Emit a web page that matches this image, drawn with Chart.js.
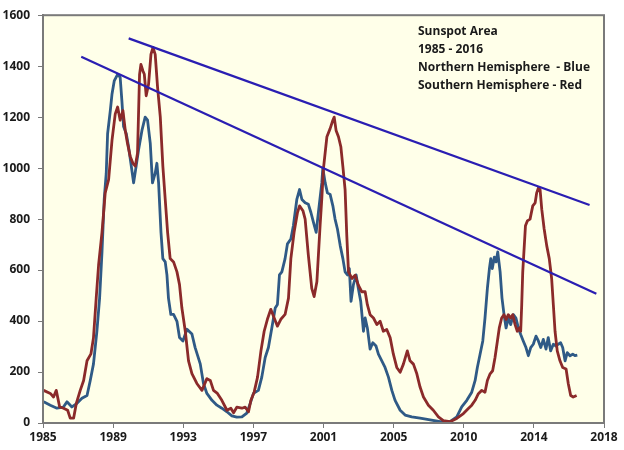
<!DOCTYPE html>
<html>
<head>
<meta charset="utf-8">
<script src="https://cdn.jsdelivr.net/npm/chart.js@4"></script>
<style>
  html, body { margin: 0; padding: 0; background: #ffffff; }
  #wrap { width: 624px; height: 450px; }
</style>
</head>
<body>
<div id="wrap"><canvas id="sunspot-chart"></canvas></div>
<script>
// x tick labels (Excel date axis, one label every ~4.1 years)
const xTickLabels = ["1985", "1989", "1993", "1997", "2001", "2005", "2010", "2014", "2018"];
const xStart = 1985;
const xEnd = 2018;

// Northern hemisphere (blue)
const northYears = [1985.04, 1985.43, 1985.82, 1986.19, 1986.41, 1986.70, 1987.00, 1987.29, 1987.59, 1987.78, 1987.97, 1988.17, 1988.33, 1988.47, 1988.60, 1988.72, 1988.80, 1988.96, 1989.06, 1989.19, 1989.39, 1989.54, 1989.64, 1989.74, 1989.90, 1990.03, 1990.17, 1990.33, 1990.48, 1990.62, 1990.82, 1991.01, 1991.15, 1991.31, 1991.44, 1991.60, 1991.70, 1991.80, 1991.94, 1992.05, 1992.19, 1992.29, 1992.38, 1992.52, 1992.68, 1992.88, 1993.03, 1993.23, 1993.47, 1993.76, 1993.95, 1994.25, 1994.44, 1994.64, 1994.94, 1995.23, 1995.52, 1995.82, 1996.11, 1996.40, 1996.70, 1996.99, 1997.19, 1997.38, 1997.67, 1997.87, 1998.07, 1998.26, 1998.46, 1998.66, 1998.79, 1998.91, 1999.05, 1999.24, 1999.38, 1999.58, 1999.73, 1999.93, 2000.09, 2000.23, 2000.42, 2000.61, 2000.76, 2000.91, 2001.07, 2001.20, 2001.40, 2001.46, 2001.60, 2001.73, 2001.89, 2002.05, 2002.18, 2002.32, 2002.48, 2002.64, 2002.77, 2002.91, 2003.02, 2003.12, 2003.26, 2003.42, 2003.55, 2003.69, 2003.85, 2003.95, 2004.08, 2004.24, 2004.40, 2004.59, 2004.73, 2004.93, 2005.12, 2005.32, 2005.52, 2005.71, 2006.01, 2006.30, 2006.69, 2007.18, 2007.77, 2008.36, 2008.94, 2009.34, 2009.63, 2009.93, 2010.22, 2010.42, 2010.55, 2010.71, 2010.87, 2011.00, 2011.14, 2011.26, 2011.34, 2011.43, 2011.55, 2011.65, 2011.75, 2011.89, 2012.00, 2012.12, 2012.24, 2012.37, 2012.51, 2012.67, 2012.82, 2012.96, 2013.10, 2013.25, 2013.41, 2013.55, 2013.69, 2013.84, 2014.00, 2014.14, 2014.28, 2014.43, 2014.59, 2014.72, 2014.86, 2015.02, 2015.18, 2015.31, 2015.45, 2015.57, 2015.71, 2015.84, 2016.00, 2016.16, 2016.29, 2016.43];
const northArea = [83, 70, 58, 62, 83, 63, 77, 97, 108, 167, 232, 360, 490, 670, 877, 980, 1135, 1226, 1291, 1342, 1368, 1356, 1265, 1163, 1135, 1085, 1019, 942, 1008, 1071, 1148, 1200, 1188, 1097, 942, 980, 1019, 942, 748, 645, 632, 581, 490, 426, 426, 399, 335, 322, 368, 349, 296, 232, 155, 116, 89, 70, 58, 44, 28, 23, 24, 39, 77, 116, 128, 180, 257, 296, 373, 451, 465, 581, 593, 645, 703, 722, 775, 877, 916, 877, 864, 858, 826, 787, 748, 826, 942, 1000, 942, 903, 897, 852, 800, 761, 697, 645, 593, 581, 606, 477, 543, 581, 528, 477, 360, 412, 373, 290, 315, 302, 270, 244, 218, 180, 128, 89, 50, 31, 24, 19, 12, 5, 5, 24, 63, 89, 121, 167, 218, 270, 322, 412, 528, 606, 645, 606, 651, 632, 671, 593, 490, 425, 373, 412, 386, 425, 412, 373, 347, 322, 296, 264, 296, 309, 341, 322, 296, 328, 290, 335, 283, 309, 302, 309, 315, 296, 244, 276, 264, 270, 264, 266];

// Southern hemisphere (red)
const southYears = [1985.04, 1985.43, 1985.62, 1985.78, 1985.98, 1986.21, 1986.45, 1986.60, 1986.80, 1986.96, 1987.19, 1987.39, 1987.59, 1987.82, 1987.97, 1988.13, 1988.27, 1988.47, 1988.66, 1988.86, 1989.06, 1989.25, 1989.39, 1989.54, 1989.70, 1989.84, 1989.97, 1990.13, 1990.29, 1990.43, 1990.56, 1990.68, 1990.76, 1990.88, 1990.96, 1991.07, 1991.21, 1991.35, 1991.47, 1991.60, 1991.74, 1991.90, 1992.05, 1992.19, 1992.33, 1992.48, 1992.68, 1992.88, 1993.03, 1993.17, 1993.37, 1993.56, 1993.76, 1994.05, 1994.35, 1994.64, 1994.84, 1995.03, 1995.26, 1995.52, 1995.82, 1996.05, 1996.21, 1996.40, 1996.70, 1996.89, 1997.09, 1997.23, 1997.42, 1997.62, 1997.82, 1998.01, 1998.20, 1998.40, 1998.60, 1998.79, 1998.99, 1999.24, 1999.44, 1999.58, 1999.77, 1999.97, 2000.09, 2000.29, 2000.42, 2000.61, 2000.81, 2000.95, 2001.11, 2001.30, 2001.40, 2001.50, 2001.70, 2001.89, 2002.05, 2002.13, 2002.24, 2002.38, 2002.52, 2002.64, 2002.77, 2002.87, 2002.97, 2003.17, 2003.36, 2003.55, 2003.75, 2003.95, 2004.08, 2004.24, 2004.44, 2004.64, 2004.83, 2005.02, 2005.22, 2005.42, 2005.61, 2005.81, 2006.01, 2006.20, 2006.43, 2006.59, 2006.79, 2006.99, 2007.18, 2007.38, 2007.67, 2007.96, 2008.26, 2008.55, 2008.94, 2009.34, 2009.73, 2010.02, 2010.22, 2010.42, 2010.61, 2010.81, 2011.00, 2011.14, 2011.30, 2011.45, 2011.59, 2011.73, 2011.84, 2011.98, 2012.12, 2012.24, 2012.37, 2012.51, 2012.63, 2012.77, 2012.90, 2013.02, 2013.10, 2013.16, 2013.22, 2013.30, 2013.38, 2013.49, 2013.65, 2013.81, 2013.95, 2014.04, 2014.14, 2014.24, 2014.34, 2014.48, 2014.63, 2014.78, 2014.92, 2015.02, 2015.12, 2015.25, 2015.41, 2015.57, 2015.77, 2015.90, 2016.04, 2016.19, 2016.39];
const southArea = [128, 116, 102, 128, 63, 58, 50, 19, 19, 77, 128, 167, 244, 271, 335, 490, 620, 748, 903, 955, 1110, 1213, 1240, 1188, 1226, 1148, 1097, 1046, 1019, 1008, 1058, 1368, 1407, 1381, 1368, 1284, 1329, 1446, 1474, 1446, 1317, 1200, 1008, 877, 748, 645, 632, 593, 543, 451, 360, 244, 194, 155, 128, 174, 167, 128, 116, 89, 50, 58, 40, 62, 58, 62, 44, 89, 121, 180, 283, 360, 407, 446, 412, 380, 407, 426, 490, 645, 748, 826, 852, 833, 800, 658, 528, 496, 554, 775, 880, 1000, 1123, 1155, 1188, 1200, 1148, 1123, 1084, 1006, 916, 735, 593, 567, 580, 541, 515, 515, 464, 425, 412, 386, 399, 360, 367, 335, 270, 218, 199, 231, 283, 244, 231, 193, 141, 102, 70, 50, 24, 9, 5, 18, 37, 57, 70, 89, 115, 128, 121, 167, 193, 205, 257, 322, 373, 412, 425, 406, 425, 412, 425, 386, 360, 373, 360, 464, 593, 683, 774, 793, 800, 852, 864, 903, 922, 916, 838, 761, 696, 645, 567, 464, 360, 283, 244, 218, 212, 154, 108, 102, 108];

// hand-drawn trend lines (start / end)
const upperTrendYears = [1990.04, 2017.15];
const upperTrendArea = [1509, 855];
const lowerTrendYears = [1987.25, 2017.55];
const lowerTrendArea = [1437, 507];

const noteLines = ["Sunspot Area", "1985 - 2016", "Northern Hemisphere  - Blue", "Southern Hemisphere - Red"];

const labelFont = { family: "'Open Sans', 'Liberation Sans', sans-serif", weight: "bold", size: 12 };

function toPoints(xs, ys) {
  return xs.map((x, i) => ({ x: x, y: ys[i] }));
}

const plotBackground = {
  id: "plotBackground",
  beforeDraw(chart) {
    const { ctx, chartArea } = chart;
    ctx.save();
    ctx.fillStyle = "#FFFFE9";
    ctx.fillRect(chartArea.left, chartArea.top, chartArea.right - chartArea.left, chartArea.bottom - chartArea.top);
    ctx.restore();
  },
  afterDraw(chart) {
    const { ctx, chartArea } = chart;
    ctx.save();
    ctx.strokeStyle = "#7a7a7a";
    ctx.lineWidth = 2;
    ctx.strokeRect(chartArea.left, chartArea.top, chartArea.right - chartArea.left, chartArea.bottom - chartArea.top);
    ctx.font = "bold 12px 'Open Sans', 'Liberation Sans', sans-serif";
    ctx.fillStyle = "#1a1a1a";
    ctx.textBaseline = "middle";
    noteLines.forEach((line, i) => {
      ctx.fillText(line, 418, 32 + i * 18);
    });
    ctx.restore();
  },
};

const ctx = document.getElementById("sunspot-chart").getContext("2d");

new Chart(ctx, {
  type: "line",
  data: {
    datasets: [
      {
        label: "Upper trend",
        data: toPoints(upperTrendYears, upperTrendArea),
        borderColor: "#2A1EB2",
        borderWidth: 2.2,
      },
      {
        label: "Lower trend",
        data: toPoints(lowerTrendYears, lowerTrendArea),
        borderColor: "#2A1EB2",
        borderWidth: 2.2,
      },
      {
        label: "Southern Hemisphere",
        data: toPoints(southYears, southArea),
        borderColor: "#8B2A2A",
        borderWidth: 2.8,
      },
      {
        label: "Northern Hemisphere",
        data: toPoints(northYears, northArea),
        borderColor: "#2F5A86",
        borderWidth: 2.8,
      },
    ],
  },
  options: {
    animation: false,
    responsive: true,
    maintainAspectRatio: false,
    layout: {
      padding: { top: 10, right: 20, left: 0, bottom: 0 },
    },
    elements: {
      point: { radius: 0 },
      line: { tension: 0, borderJoinStyle: "round" },
    },
    plugins: {
      legend: { display: false },
      tooltip: { enabled: false },
    },
    scales: {
      x: {
        type: "linear",
        min: xStart,
        max: xEnd,
        afterBuildTicks: (scale) => {
          scale.ticks = xTickLabels.map((_, i) => ({ value: xStart + (i * (xEnd - xStart)) / (xTickLabels.length - 1) }));
        },
        afterFit: (scale) => {
          scale.height = 27;
        },
        border: { color: "#7a7a7a", width: 2 },
        grid: { drawOnChartArea: false, color: "#7a7a7a", tickLength: 5, lineWidth: 1 },
        ticks: {
          color: "#1a1a1a",
          font: labelFont,
          padding: 2,
          maxRotation: 0,
          autoSkip: false,
          callback: (value, index) => xTickLabels[index],
        },
      },
      y: {
        min: 0,
        max: 1600,
        afterFit: (scale) => {
          scale.width = 43;
        },
        border: { color: "#7a7a7a", width: 2 },
        grid: { drawOnChartArea: false, color: "#7a7a7a", tickLength: 5, lineWidth: 1 },
        ticks: {
          stepSize: 200,
          color: "#1a1a1a",
          font: labelFont,
          padding: 8,
          callback: (value) => String(value),
        },
      },
    },
  },
  plugins: [plotBackground],
});
</script>
</body>
</html>
